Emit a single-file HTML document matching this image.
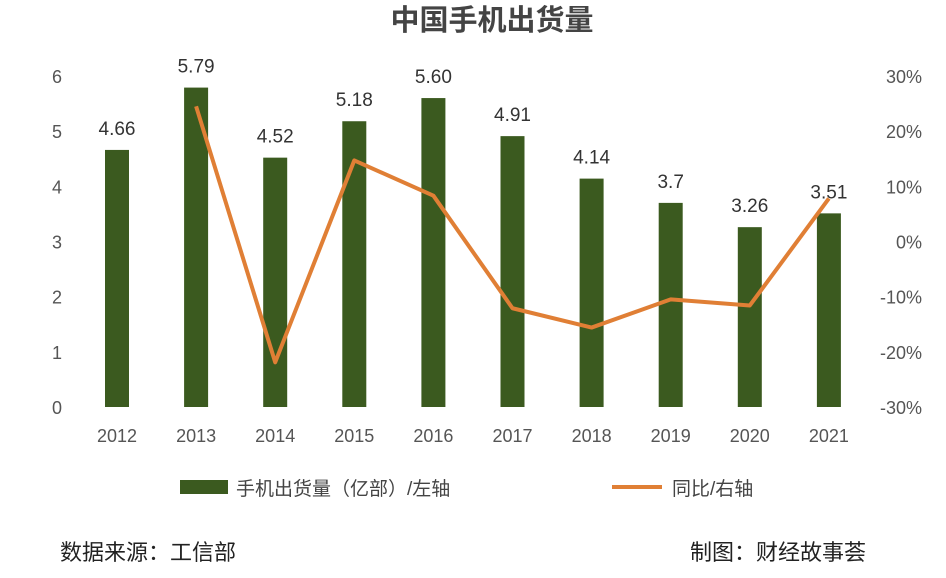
<!DOCTYPE html>
<html><head><meta charset="utf-8"><style>
body{margin:0;background:#fff;width:946px;height:573px;overflow:hidden;font-family:"Liberation Sans","Noto Sans CJK SC",sans-serif;}
</style></head><body>
<svg width="946" height="573" xmlns="http://www.w3.org/2000/svg" style="font-family:'Liberation Sans','Noto Sans CJK SC',sans-serif">
<text x="492" y="30" text-anchor="middle" font-size="29" font-weight="bold" fill="#444">中国手机出货量</text>
<g id="plot"></g>
<g>
<rect x="180" y="480" width="48" height="14" fill="#3b5a1f"/>
<text x="236" y="495" font-size="19" fill="#444">手机出货量（亿部）/左轴</text>
<line x1="612" y1="487" x2="662" y2="487" stroke="#e07f35" stroke-width="4"/>
<text x="672" y="495" font-size="19" fill="#444">同比/右轴</text>
</g>
<text x="60" y="560" font-size="22" fill="#222">数据来源：工信部</text>
<text x="690" y="560" font-size="22" fill="#222">制图：财经故事荟</text>
</svg>
<script>
const years=["2012","2013","2014","2015","2016","2017","2018","2019","2020","2021"];
const shipments=[4.66,5.79,4.52,5.18,5.60,4.91,4.14,3.7,3.26,3.51];
const shipmentLabels=["4.66","5.79","4.52","5.18","5.60","4.91","4.14","3.7","3.26","3.51"];
const yoy=[null,24.5,-21.9,14.7,8.3,-12.1,-15.6,-10.5,-11.6,7.8];
const leftTicks=[0,1,2,3,4,5,6];
const rightTicks=[-30,-20,-10,0,10,20,30];
const NS="http://www.w3.org/2000/svg";
const g=document.getElementById('plot');
const y0=407,yTop=76;
const yL=v=>y0-(v/6)*(y0-yTop);
const yR=v=>y0-((v+30)/60)*(y0-yTop);
const xC=i=>117+i*79.1;
function mk(t,a){const e=document.createElementNS(NS,t);for(const k in a)e.setAttribute(k,a[k]);g.appendChild(e);return e;}
leftTicks.forEach(v=>{const t=mk('text',{x:62,y:yL(v)+7,'text-anchor':'end','font-size':18,fill:'#555'});t.textContent=v;

});
rightTicks.forEach(v=>{const t=mk('text',{x:922,y:yR(v)+7,'text-anchor':'end','font-size':18,fill:'#555'});t.textContent=v+'%';

});
years.forEach((yr,i)=>{
const b=mk('rect',{x:xC(i)-12,y:yL(shipments[i]),width:24,height:y0-yL(shipments[i]),fill:'#3b5a1f'});


const l=mk('text',{x:xC(i),y:yL(shipments[i])-15,'text-anchor':'middle','font-size':19,fill:'#333'});l.textContent=shipmentLabels[i];


const x=mk('text',{x:xC(i),y:442,'text-anchor':'middle','font-size':18,fill:'#555'});x.textContent=yr;


});
const pts=[];yoy.forEach((v,i)=>{if(v!==null)pts.push(xC(i)+','+yR(v));});
const pl=mk('polyline',{points:pts.join(' '),fill:'none',stroke:'#e07f35','stroke-width':4,'stroke-linejoin':'round'});


</script>
</body></html>
